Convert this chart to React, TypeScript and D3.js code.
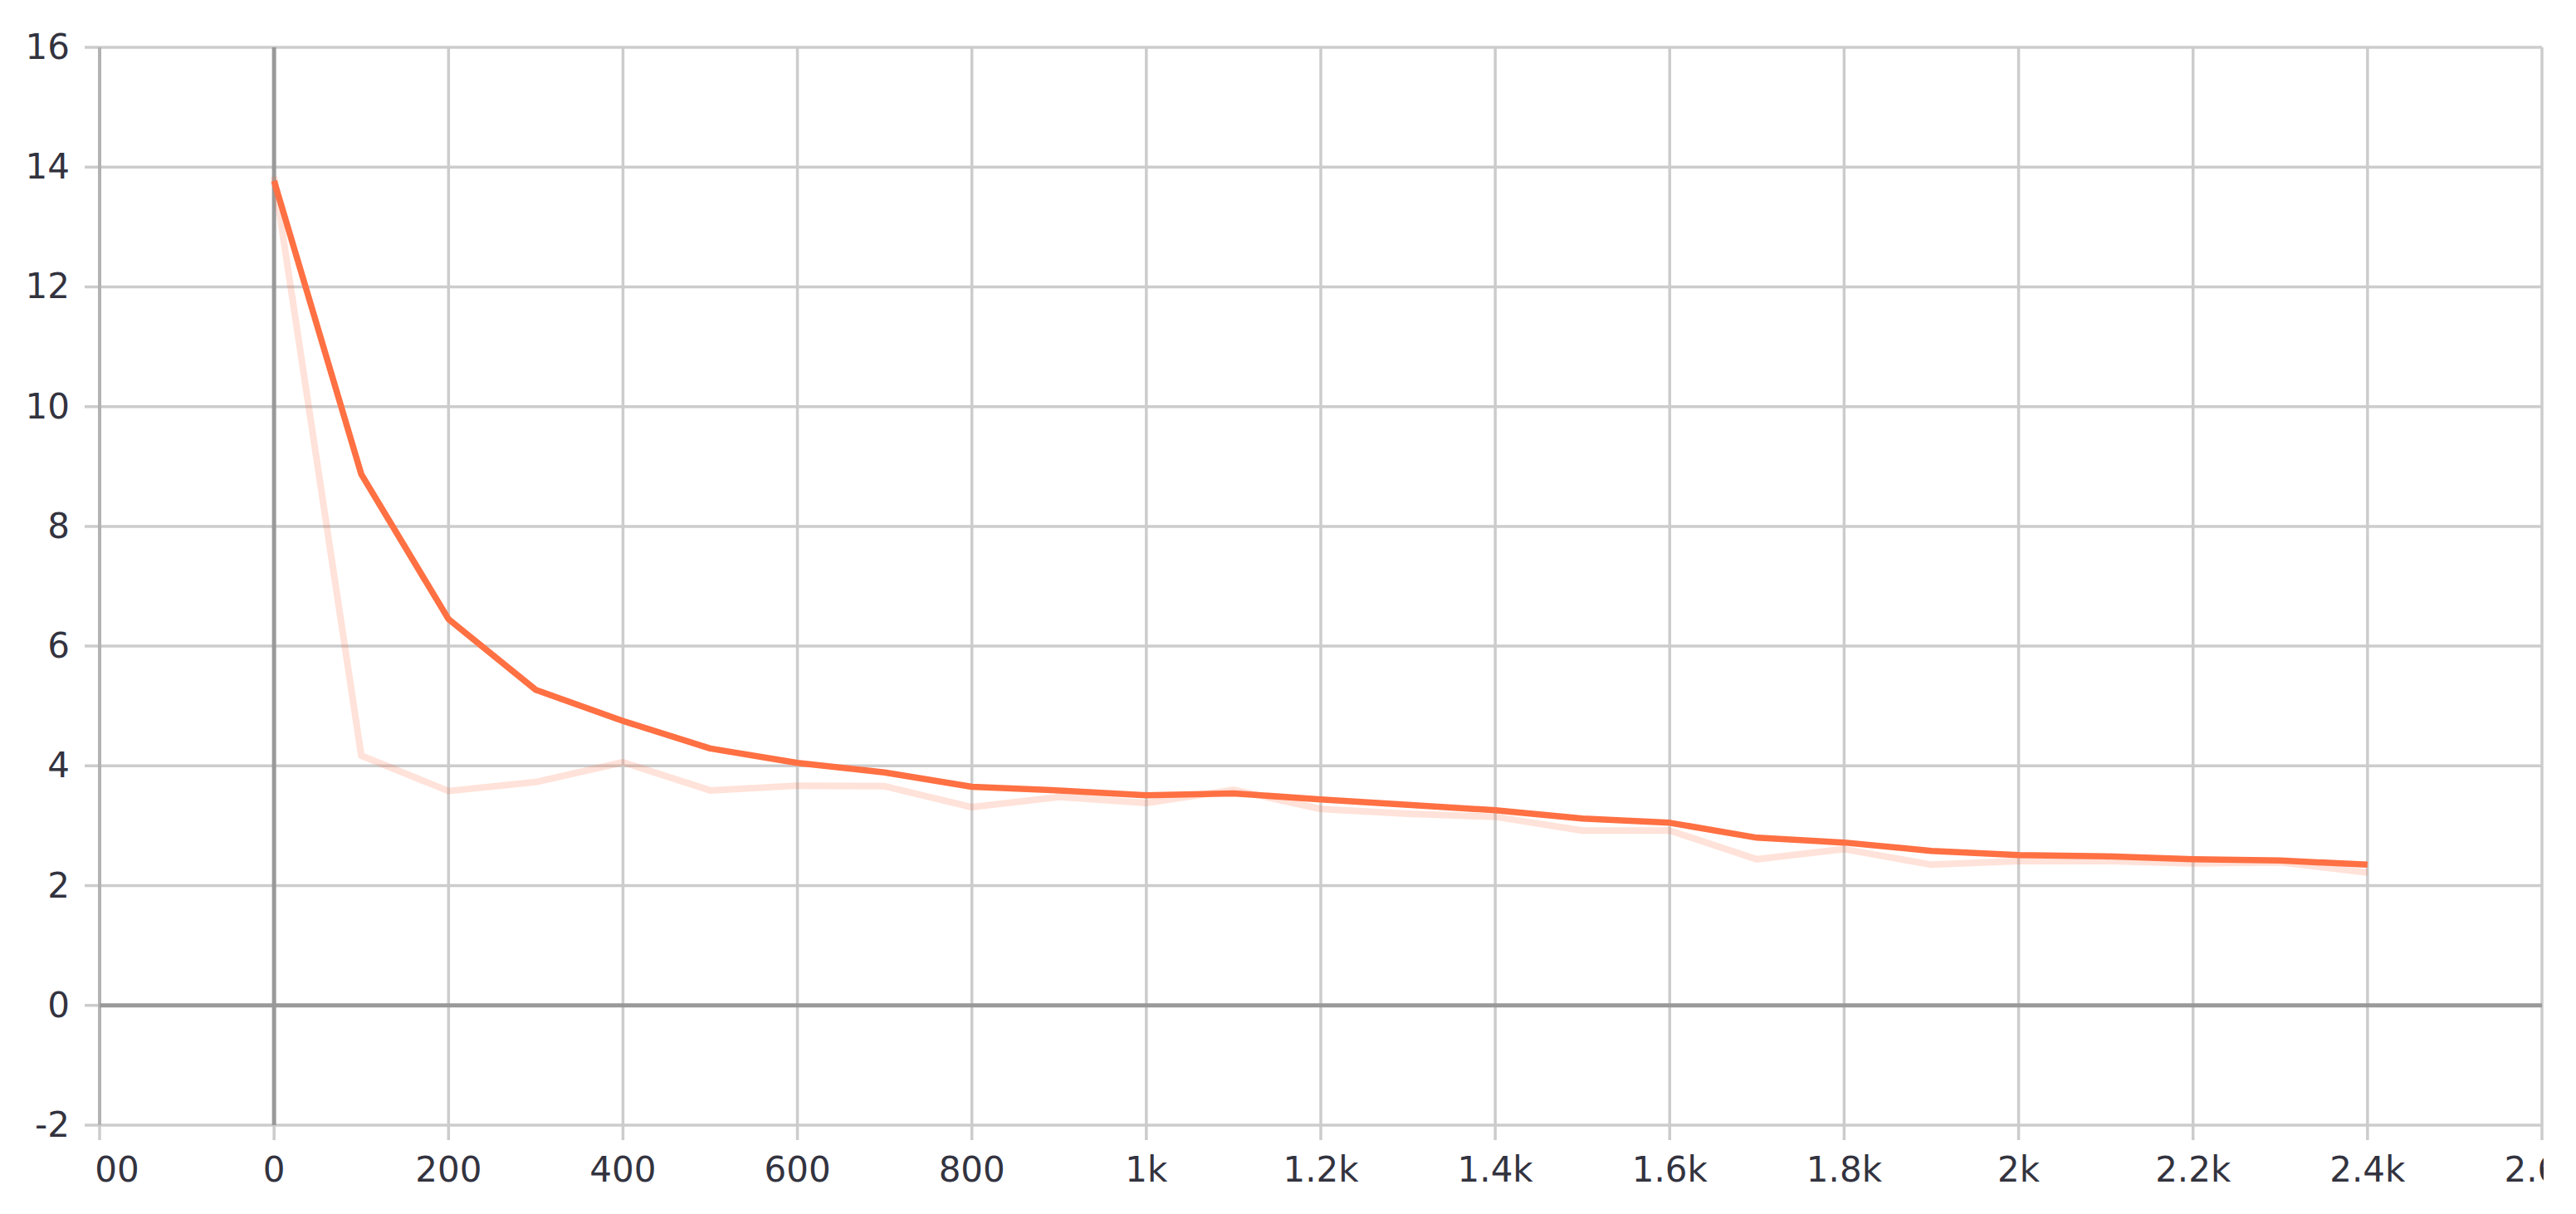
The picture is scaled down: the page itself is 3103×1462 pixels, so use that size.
import React, { useEffect, useRef } from "react";
import * as d3 from "d3";

const steps = [0, 100, 200, 300, 400, 500, 600, 700, 800, 900, 1000, 1100, 1200, 1300, 1400, 1500, 1600, 1700, 1800, 1900, 2000, 2100, 2200, 2300, 2400];
const rawValues = [13.84, 4.17, 3.58, 3.73, 4.06, 3.59, 3.67, 3.66, 3.31, 3.48, 3.38, 3.6, 3.28, 3.2, 3.15, 2.92, 2.92, 2.44, 2.61, 2.35, 2.41, 2.41, 2.37, 2.39, 2.22];
const smoothValues = [13.77, 8.87, 6.45, 5.27, 4.75, 4.29, 4.05, 3.89, 3.65, 3.59, 3.51, 3.54, 3.44, 3.35, 3.26, 3.12, 3.05, 2.8, 2.72, 2.58, 2.51, 2.49, 2.44, 2.42, 2.35];
const xTicks = [-200, 0, 200, 400, 600, 800, 1000, 1200, 1400, 1600, 1800, 2000, 2200, 2400, 2600];
const yTicks = [-2, 0, 2, 4, 6, 8, 10, 12, 14, 16];

const W = 3103, H = 1462;
const left = 120, right = 3062, top = 57, bottom = 1355;
const lineColor = "#ff7043";
const textColor = "#33333f";
const font = "'DejaVu Sans', Verdana, sans-serif";

function fmtStep(v: number) {
  if (Math.abs(v) >= 1000) return d3.format("~g")(v / 1000) + "k";
  return String(v);
}

export default function App() {
  const ref = useRef<SVGSVGElement>(null);

  useEffect(() => {
    const svg = d3.select(ref.current);
    svg.selectAll("*").remove();

    const x = d3.scaleLinear().domain([-200, 2600]).range([left, right]);
    const y = d3.scaleLinear().domain([-2, 16]).range([bottom, top]);

    svg.append("defs").append("clipPath").attr("id", "xlab-clip")
      .append("rect").attr("x", left - 4).attr("y", 0).attr("width", right - left + 6).attr("height", H);

    const grid = svg.append("g");
    // horizontal grid + left ticks
    grid.selectAll(".hg").data(yTicks).join("line")
      .attr("x1", left - 18).attr("x2", right)
      .attr("y1", (d) => y(d)).attr("y2", (d) => y(d))
      .attr("stroke", "#cccccc").attr("stroke-width", 3.5);
    // vertical grid + bottom ticks
    grid.selectAll(".vg").data(xTicks).join("line")
      .attr("x1", (d) => x(d)).attr("x2", (d) => x(d))
      .attr("y1", top).attr("y2", bottom + 18)
      .attr("stroke", "#cccccc").attr("stroke-width", 3.5);

    // left axis line
    svg.append("line").attr("x1", left).attr("x2", left).attr("y1", top).attr("y2", bottom)
      .attr("stroke", "#b2b2b2").attr("stroke-width", 4);

    // zero lines
    svg.append("line").attr("x1", left).attr("x2", right).attr("y1", y(0)).attr("y2", y(0))
      .attr("stroke", "#999999").attr("stroke-width", 5);
    svg.append("line").attr("x1", x(0)).attr("x2", x(0)).attr("y1", top).attr("y2", bottom)
      .attr("stroke", "#999999").attr("stroke-width", 5);

    // y labels
    svg.append("g").selectAll("text").data(yTicks).join("text")
      .attr("x", 84).attr("y", (d) => y(d) + 14)
      .attr("text-anchor", "end")
      .attr("font-family", font).attr("font-size", 42).attr("fill", textColor)
      .text((d) => String(d));

    // x labels (clipped to plot width)
    svg.append("g").attr("clip-path", "url(#xlab-clip)")
      .selectAll("text").data(xTicks).join("text")
      .attr("x", (d) => x(d)).attr("y", 1423)
      .attr("text-anchor", "middle")
      .attr("font-family", font).attr("font-size", 42).attr("fill", textColor)
      .text((d) => fmtStep(d));

    const line = d3.line<number>().x((d, i) => x(steps[i])).y((d) => y(d));

    svg.append("path").datum(rawValues).attr("d", line)
      .attr("fill", "none").attr("stroke", lineColor).attr("stroke-opacity", 0.2)
      .attr("stroke-width", 8).attr("stroke-linejoin", "round");
    svg.append("path").datum(smoothValues).attr("d", line)
      .attr("fill", "none").attr("stroke", lineColor)
      .attr("stroke-width", 7.5).attr("stroke-linejoin", "round");
  }, []);

  return (
    <svg ref={ref} width={W} height={H}
      style={{ position: "absolute", left: 0, top: 0, background: "#fff" }} />
  );
}
